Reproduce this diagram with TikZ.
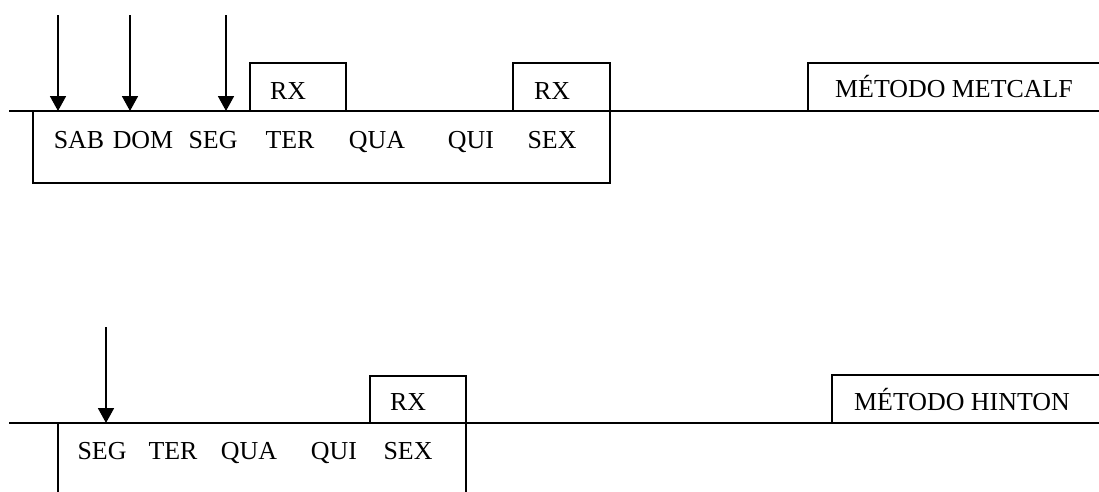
\documentclass[tikz,border=0pt]{standalone}
\usepackage{fontspec}
\setmainfont{Liberation Serif}
\usetikzlibrary{arrows.meta}
\begin{document}
\begin{tikzpicture}[x=1pt,y=-1pt,
  ln/.style={line width=1.8pt},
  arr/.style={line width=1.8pt,-{Triangle[width=16pt,length=15pt]}},
  lbl/.style={anchor=base,inner sep=0pt,font=\fontsize{25.9}{30}\selectfont}]
\useasboundingbox (0,0) rectangle (1099,491);
% ---------- Metcalf ----------
\coordinate (l1a) at (9,111);
\coordinate (l1b) at (1100,111);
\draw[ln] (l1a) -- (l1b);
\coordinate (b1tl) at (33,111);
\coordinate (b1br) at (610,183);
\draw[ln] (b1tl) |- (b1br) -- (610,111);
\coordinate (rx1a) at (250,111);
\coordinate (rx1b) at (346,63);
\draw[ln] (rx1a) |- (rx1b) -- (346,111);
\coordinate (rx2a) at (513,111);
\coordinate (rx2b) at (610,63);
\draw[ln] (rx2a) |- (rx2b) -- (610,111);
\coordinate (m1a) at (808,111);
\coordinate (m1b) at (1100,63);
\draw[ln] (m1a) |- (m1b);
\coordinate (a1s) at (58,15);  \coordinate (a1e) at (58,111);
\coordinate (a2s) at (130,15); \coordinate (a2e) at (130,111);
\coordinate (a3s) at (226,15); \coordinate (a3e) at (226,111);
\draw[arr] (a1s) -- (a1e);
\draw[arr] (a2s) -- (a2e);
\draw[arr] (a3s) -- (a3e);
\node[lbl] (rx1) at (288,99) {RX};
\node[lbl] (rx2) at (552,99) {RX};
\node[lbl] (met1) at (954,97) {MÉTODO METCALF};
\node[lbl] (sab) at (79,148) {SAB};
\node[lbl] (dom) at (143,148) {DOM};
\node[lbl] (seg1) at (213,148) {SEG};
\node[lbl] (ter1) at (290,148) {TER};
\node[lbl] (qua1) at (377,148) {QUA};
\node[lbl] (qui1) at (471,148) {QUI};
\node[lbl] (sex1) at (552,148) {SEX};
% ---------- Hinton ----------
\coordinate (l2a) at (9,423);
\coordinate (l2b) at (1100,423);
\draw[ln] (l2a) -- (l2b);
\coordinate (b2l) at (58,423);
\coordinate (b2r) at (466,423);
\draw[ln] (b2l) -- (58,492);
\draw[ln] (b2r) -- (466,492);
\coordinate (rx3a) at (370,423);
\coordinate (rx3b) at (466,376);
\draw[ln] (rx3a) |- (rx3b) -- (b2r);
\coordinate (m2a) at (832,423);
\coordinate (m2b) at (1100,375);
\draw[ln] (m2a) |- (m2b);
\coordinate (a4s) at (106,327); \coordinate (a4e) at (106,423);
\draw[arr] (a4s) -- (a4e);
\node[lbl] (rx3) at (408,410) {RX};
\node[lbl] (met2) at (962,410) {MÉTODO HINTON};
\node[lbl] (seg2) at (102,459) {SEG};
\node[lbl] (ter2) at (173,459) {TER};
\node[lbl] (qua2) at (249,459) {QUA};
\node[lbl] (qui2) at (334,459) {QUI};
\node[lbl] (sex2) at (408,459) {SEX};
\end{tikzpicture}
\end{document}
